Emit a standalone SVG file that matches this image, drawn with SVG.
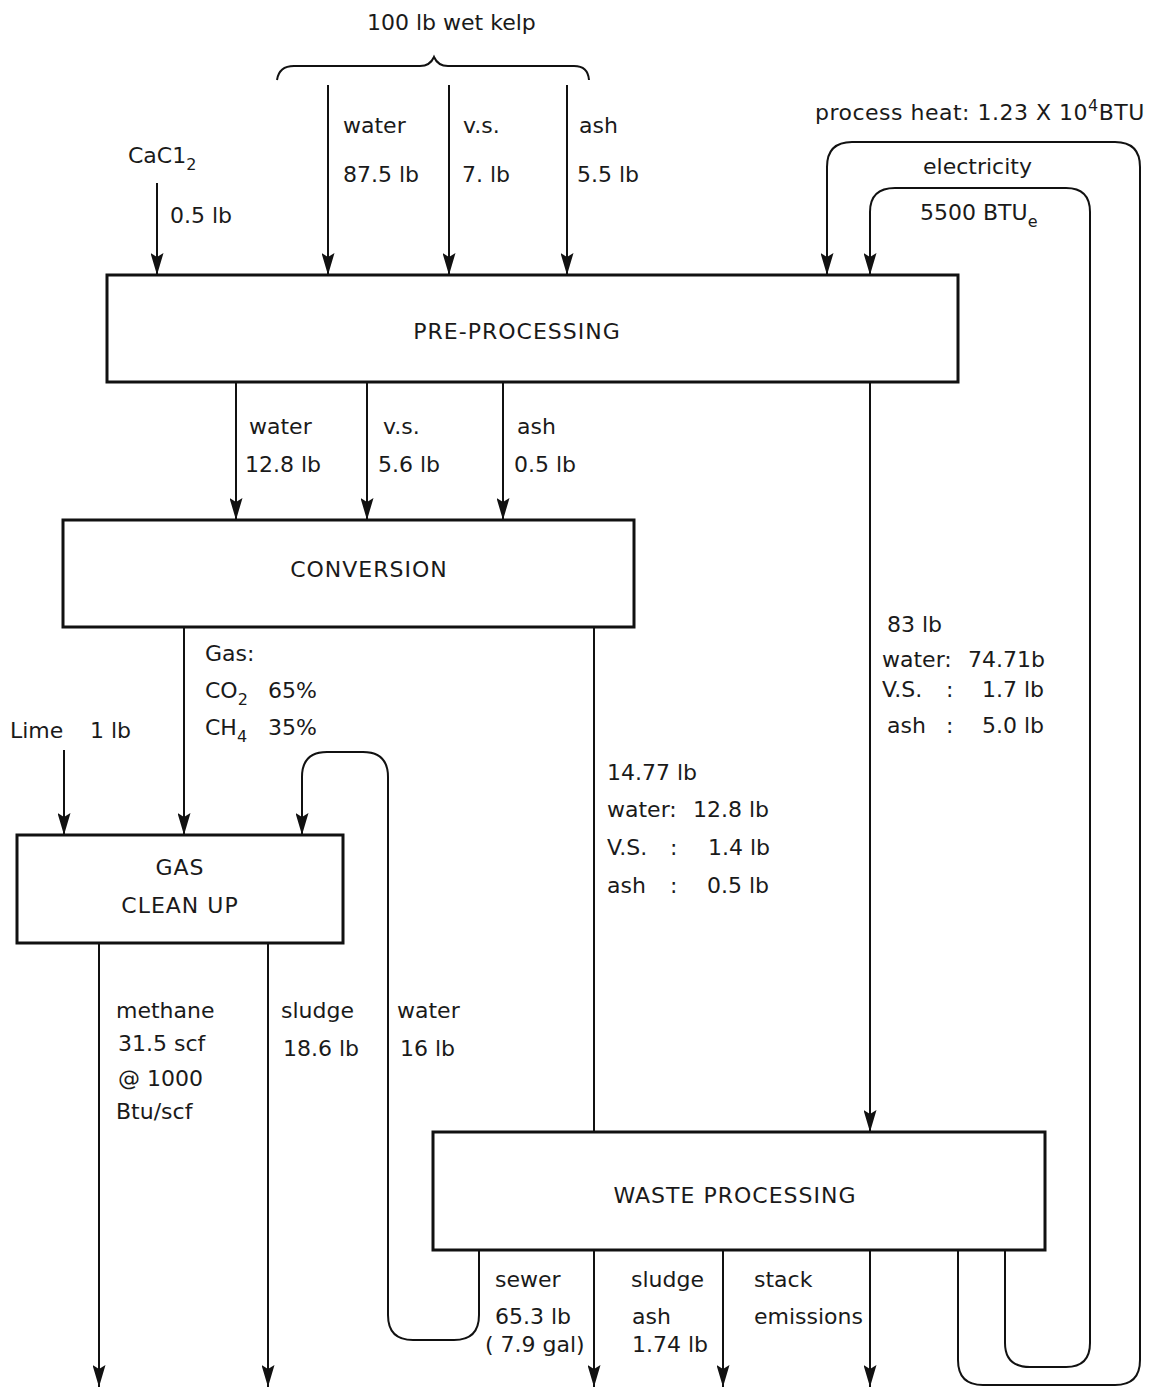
<svg xmlns="http://www.w3.org/2000/svg" width="1150" height="1387" viewBox="0 0 1150 1387">
<style>
text{font-family:"DejaVu Sans","Liberation Sans",sans-serif;font-size:22px;fill:#1a1a1a}
.box{fill:#fff;stroke:#111;stroke-width:3}
.bl{letter-spacing:1px;text-anchor:middle}
.c{fill:none;stroke:#111;stroke-width:2}
.a{marker-end:url(#ah)}
.sub{font-size:16px}
</style>
<defs>
<marker id="ah" viewBox="0 0 22 13" refX="22" refY="6.5" markerWidth="22" markerHeight="13" markerUnits="userSpaceOnUse" orient="auto">
<path d="M0,0 L22,6.5 L0,13 L4,6.5 Z" fill="#111"/>
</marker>
</defs>
<rect width="1150" height="1387" fill="#fff"/>

<g id="connectors">
<path class="c" d="M277,80 Q279,66 294,66 H420 Q430,66 434,57 Q438,66 448,66 H574 Q588,66 589,80"/>
<path class="c a" d="M157,183 V275"/>
<path class="c a" d="M328,85 V275"/>
<path class="c a" d="M449,85 V275"/>
<path class="c a" d="M567,85 V275"/>
<path class="c a" d="M958,1250 V1360 Q958,1385 983,1385 H1115 Q1140,1385 1140,1360 V167 Q1140,142 1115,142 H852 Q827,142 827,167 V275"/>
<path class="c a" d="M1005,1250 V1343 Q1005,1367 1030,1367 H1066 Q1090,1367 1090,1343 V212 Q1090,188 1066,188 H895 Q870,188 870,212 V275"/>
<path class="c a" d="M236,382 V520"/>
<path class="c a" d="M367,382 V520"/>
<path class="c a" d="M503,382 V520"/>
<path class="c a" d="M870,382 V1132"/>
<path class="c" d="M594,627 V1132"/>
<path class="c a" d="M184,627 V835"/>
<path class="c a" d="M64,750 V835"/>
<path class="c a" d="M479,1250 V1315 Q479,1340 454,1340 H413 Q388,1340 388,1315 V777 Q388,752 363,752 H327 Q302,752 302,777 V835"/>
<path class="c a" d="M99,943 V1387"/>
<path class="c a" d="M268,943 V1387"/>
<path class="c a" d="M594,1250 V1387"/>
<path class="c a" d="M723,1250 V1387"/>
<path class="c a" d="M870,1250 V1387"/>
</g>

<g id="pre-processing">
<rect class="box" x="107" y="275" width="851" height="107"/>
<text class="bl" x="517" y="339">PRE-PROCESSING</text>
</g>
<g id="conversion">
<rect class="box" x="63" y="520" width="571" height="107"/>
<text class="bl" x="369" y="577">CONVERSION</text>
</g>
<g id="gas-clean-up">
<rect class="box" x="17" y="835" width="326" height="108"/>
<text class="bl" x="180" y="875">GAS</text>
<text class="bl" x="180" y="913">CLEAN UP</text>
</g>
<g id="waste-processing">
<rect class="box" x="433" y="1132" width="612" height="118"/>
<text class="bl" x="735" y="1203">WASTE PROCESSING</text>
</g>

<g id="labels">
<text x="367" y="30">100 lb wet kelp</text>
<text x="128" y="163">CaC1<tspan class="sub" dy="7">2</tspan></text>
<text x="170" y="223">0.5 lb</text>
<text x="343" y="133">water</text>
<text x="343" y="182">87.5 lb</text>
<text x="463" y="133">v.s.</text>
<text x="462" y="182">7. lb</text>
<text x="579" y="133">ash</text>
<text x="577" y="182">5.5 lb</text>
<text x="815" y="120" letter-spacing="0.5">process heat: 1.23 X 10<tspan class="sub" dy="-9">4</tspan><tspan dy="9">BTU</tspan></text>
<text x="923" y="174">electricity</text>
<text x="920" y="220">5500 BTU<tspan class="sub" dy="7">e</tspan></text>

<text x="249" y="434">water</text>
<text x="245" y="472">12.8 lb</text>
<text x="383" y="434">v.s.</text>
<text x="378" y="472">5.6 lb</text>
<text x="517" y="434">ash</text>
<text x="514" y="472">0.5 lb</text>

<text x="205" y="661">Gas:</text>
<text x="205" y="698">CO<tspan class="sub" dy="7">2</tspan></text>
<text x="268" y="698">65%</text>
<text x="205" y="735">CH<tspan class="sub" dy="7">4</tspan></text>
<text x="268" y="735">35%</text>
<text x="10" y="738">Lime</text>
<text x="90" y="738">1 lb</text>

<text x="887" y="632">83 lb</text>
<text x="882" y="667">water:</text>
<text x="968" y="667">74.71b</text>
<text x="882" y="697">V.S.</text>
<text x="946" y="697">:</text>
<text x="982" y="697">1.7 lb</text>
<text x="887" y="733">ash</text>
<text x="946" y="733">:</text>
<text x="982" y="733">5.0 lb</text>

<text x="607" y="780">14.77 lb</text>
<text x="607" y="817">water:</text>
<text x="693" y="817">12.8 lb</text>
<text x="607" y="855">V.S.</text>
<text x="670" y="855">:</text>
<text x="708" y="855">1.4 lb</text>
<text x="607" y="893">ash</text>
<text x="670" y="893">:</text>
<text x="707" y="893">0.5 lb</text>

<text x="116" y="1018">methane</text>
<text x="118" y="1051">31.5 scf</text>
<text x="118" y="1086">@ 1000</text>
<text x="116" y="1119">Btu/scf</text>
<text x="281" y="1018">sludge</text>
<text x="283" y="1056">18.6 lb</text>
<text x="397" y="1018">water</text>
<text x="400" y="1056">16 lb</text>

<text x="495" y="1287">sewer</text>
<text x="495" y="1324">65.3 lb</text>
<text x="485" y="1352">( 7.9 gal)</text>
<text x="631" y="1287">sludge</text>
<text x="632" y="1324">ash</text>
<text x="632" y="1352">1.74 lb</text>
<text x="754" y="1287">stack</text>
<text x="754" y="1324">emissions</text>
</g>
</svg>
